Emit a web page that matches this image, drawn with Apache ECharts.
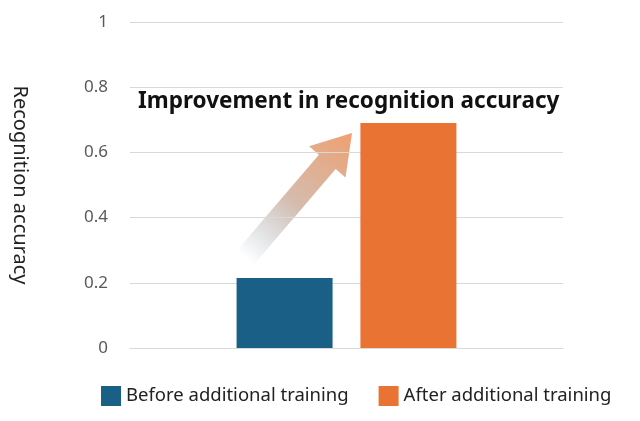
<!DOCTYPE html><html><head><meta charset="utf-8"><script src="https://cdn.jsdelivr.net/npm/echarts@6/dist/echarts.min.js"></script></head><body style="margin:0"><div id="c" style="width:640px;height:421px"></div><script>
const categories=['Recognition'];
const seriesNames=['Before additional training','After additional training'];
const before=[0.215];
const after=[0.69];
const yTicks=[0,0.2,0.4,0.6,0.8,1];
const chart=echarts.init(document.getElementById('c'));
const x0=245,y0=258,x1=352,y1=133;
const L=Math.hypot(x1-x0,y1-y0),ux=(x1-x0)/L,uy=(y1-y0)/L,nx=-uy,ny=ux;
const hl=38,sw=11,hw=24;
const bx=x1-ux*hl,by=y1-uy*hl;
const pts=[[x0+nx*sw,y0+ny*sw],[bx+nx*sw,by+ny*sw],[bx+nx*hw,by+ny*hw],[x1,y1],[bx-nx*hw,by-ny*hw],[bx-nx*sw,by-ny*sw],[x0-nx*sw,y0-ny*sw]];
const F='"Noto Sans"';
chart.setOption({
 animation:false,
 textStyle:{fontFamily:F},
 grid:{left:130,right:77,top:22,bottom:73},
 xAxis:{type:'category',data:categories,axisLabel:{show:false},axisTick:{show:false},axisLine:{lineStyle:{color:'#d9d9d9'}}},
 yAxis:{type:'value',min:0,max:1,interval:0.2,axisLabel:{fontSize:17,fontFamily:F,color:'#595959',margin:22,formatter:v=>String(+v.toFixed(1))},
  splitLine:{lineStyle:{color:'#d9d9d9'}},name:'Recognition accuracy',nameLocation:'middle',nameRotate:-90,nameGap:100,nameTextStyle:{fontSize:20,fontFamily:F,color:'#222'}},
 legend:{bottom:10,left:96,itemWidth:20,itemHeight:20,itemGap:30,icon:'rect',textStyle:{fontSize:18.5,fontFamily:F,color:'#222'},data:seriesNames},
 series:[
  {name:seriesNames[0],type:'bar',data:before,barWidth:96,barGap:'29%',itemStyle:{color:'#1a5f86'}},
  {name:seriesNames[1],type:'bar',data:after,barWidth:96,itemStyle:{color:'#e97332'}}
 ],
 graphic:[
  {type:'polygon',shape:{points:pts},style:{fill:new echarts.graphic.LinearGradient(x0,y0,x1,y1,[{offset:0,color:'rgba(140,165,185,0)'},{offset:0.45,color:'rgba(200,165,145,0.75)'},{offset:1,color:'#f0a070'}],true)}},
  {type:'text',left:138,top:90,style:{text:'Improvement in recognition accuracy',font:'bold 22.5px "Noto Sans"',fill:'#111'}}
 ]
});
</script></body></html>
